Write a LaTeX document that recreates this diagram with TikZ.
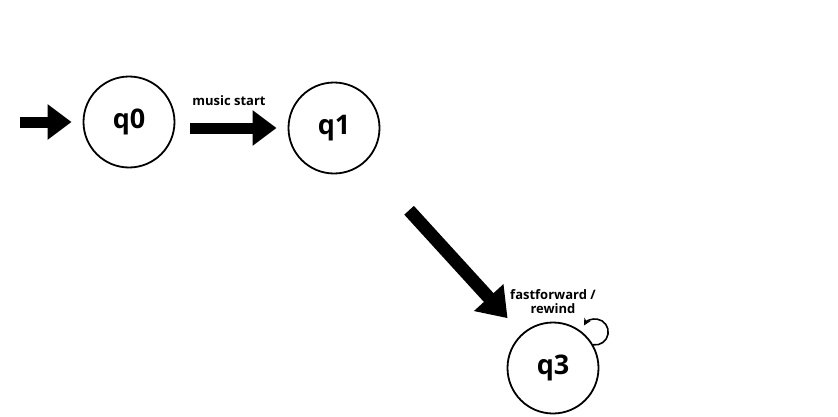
\documentclass[tikz,border=0pt]{standalone}
\usepackage{fontspec}
\setmainfont{Open Sans}
\usetikzlibrary{automata, positioning, arrows.meta}
\tikzset{
    x=1pt, y=1pt, % one unit is one pixel of the picture
    node distance=205pt, % distance between q0 and q1
    every state/.style={draw, line width=1.8pt, minimum size=91pt, font=\fontsize{27}{30}\selectfont\bfseries}, % sets the properties for each 'state' node
    fatarrow/.style={line width=11pt, -{Triangle[length=24pt,width=34pt]}}, % the big black arrows
    initial text=$ $, % no text on the start arrow
    every initial by arrow/.style={fatarrow, shorten >=11pt},
    lbl/.style={font=\fontsize{13}{14}\selectfont\bfseries, align=center},
    }
\begin{document}
\begin{tikzpicture}
            \useasboundingbox (0,0) rectangle (838,416);
            \node[state, initial, initial distance=63pt] (q0) at (129,294) {q0};
            \node[state, right of=q0, yshift=-6pt] (q1) {q1};
            \node[state] (q3) at (553,48) {q3};
            \node[lbl] (lmusic) at (229,315) {music start};
            \node[lbl] (lff) at (553,114) {fastforward /\\rewind};
            \draw[fatarrow, shorten <=15pt, shorten >=11pt] (q0.east |- q1.west) -- (q1.west);
            \draw[fatarrow, line width=13pt, -{Triangle[length=28pt,width=38pt]}, shorten <=65pt, shorten >=21pt] (q1) -- (q3);
            \draw[line width=1.6pt, -{Stealth[length=7pt,width=7pt]}] (q3.30) arc[start angle=-99, end angle=150, radius=13];
\end{tikzpicture}
\end{document}
